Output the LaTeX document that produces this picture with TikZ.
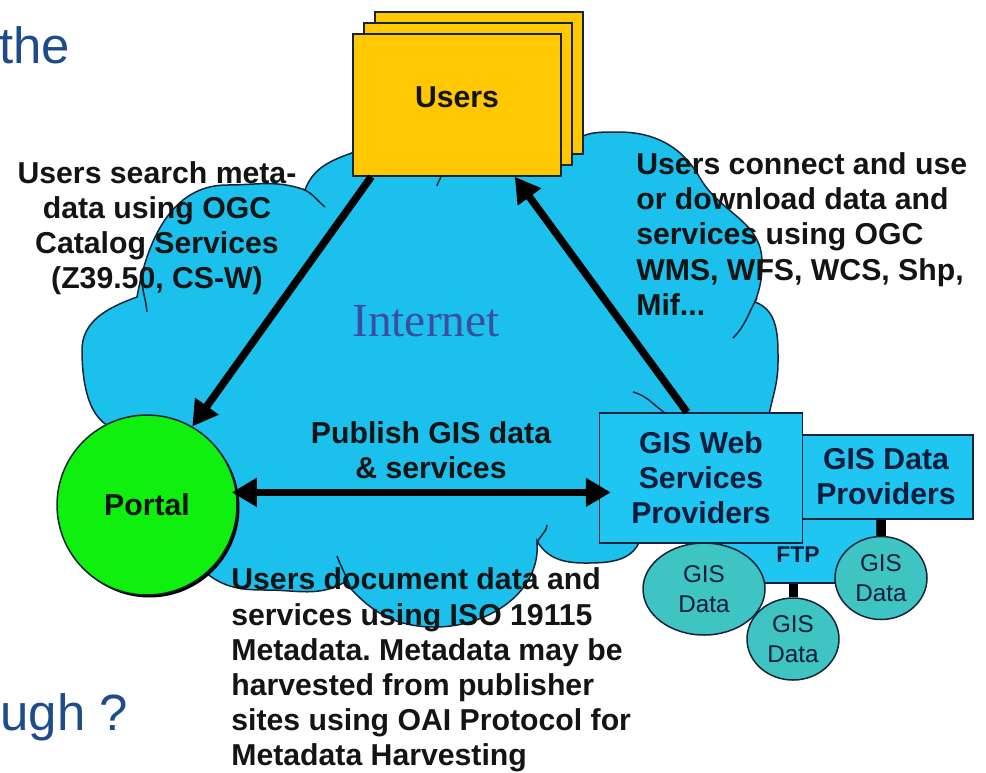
\documentclass[tikz,border=0pt]{standalone}
\usepackage{fontspec}
\setmainfont{Liberation Sans}
\newfontfamily\netfont{Liberation Serif}
\usetikzlibrary{arrows.meta,shapes.geometric,shadows}
\frenchspacing

\definecolor{cloudblue}{HTML}{1BC1EC}
\definecolor{boxblue}{HTML}{20C6F2}
\definecolor{usergold}{HTML}{FFC800}
\definecolor{portalgreen}{HTML}{0FF00F}
\definecolor{datateal}{HTML}{3EC4C2}
\definecolor{edgeblue}{HTML}{16233A}
\definecolor{slideblue}{HTML}{1E4C8A}
\definecolor{netblue}{HTML}{3A4FA0}
\definecolor{inkdark}{HTML}{141414}
\definecolor{inknavy}{HTML}{0E1C3C}

\tikzset{
  edgeline/.style={draw=edgeblue, line width=0.03cm},
  cloudshape/.style={edgeline, fill=cloudblue},
  usersbox/.style={edgeline, fill=usergold, minimum width=4.16cm, minimum height=2.84cm, inner sep=0pt},
  provbox/.style={edgeline, fill=boxblue, inner sep=0pt, align=center, text=inknavy, font=\bfseries\fontsize{17.2}{20}\selectfont},
  datadisc/.style={edgeline, fill=datateal, ellipse, inner sep=0pt, align=center, text=inknavy, font=\fontsize{13.8}{17}\selectfont},
  notetext/.style={inner sep=0pt, text=inkdark, font=\bfseries\fontsize{17.2}{20}\selectfont},
  slidetext/.style={inner sep=0pt, text=slideblue, font=\fontsize{29}{34}\selectfont},
  flowarrow/.style={line width=0.15cm, -{Triangle[length=0.5cm,width=0.55cm]}},
  linkbar/.style={line width=0.18cm},
}

\begin{document}
\begin{tikzpicture}[x=0.02cm,y=0.02cm]
  \useasboundingbox (0,0) rectangle (986,-772);

  % internet cloud
  \path[cloudshape] (125,-430) to[out=180,in=-90] (82,-350) to[out=90,in=200] (137,-297)
    to[out=80,in=180] (227,-185) to[out=0,in=160] (305,-190)
    to[out=70,in=200] (360,-150) -- (570,-150)
    to[out=70,in=180] (618,-132) to[out=0,in=120] (700,-178)
    to[out=-60,in=90] (762,-262) to[out=-90,in=70] (755,-302)
    to[out=-20,in=90] (778,-362) to[out=-90,in=80] (768,-420)
    -- (640,-540) to[out=-110,in=0] (585,-563) to[out=180,in=-60] (537,-541)
    to[out=-85,in=0] (435,-627) to[out=180,in=-50] (345,-582)
    to[out=-150,in=0] (267,-590) to[out=180,in=-40] (205,-572) -- cycle;
  \draw[edgeline] (142,-282) to[out=-85,in=95] (147,-312);
  \draw[edgeline] (303,-189) to[out=-25,in=140] (325,-207);
  \draw[edgeline] (757,-298) to[out=-120,in=45] (733,-338);
  \draw[edgeline] (633,-392) to[out=-15,in=145] (665,-413);
  \draw[edgeline] (337,-556) to[out=-70,in=110] (350,-586);
  \draw[edgeline] (537,-545) to[out=85,in=-95] (547,-525);
  \draw[edgeline] (441,-176) to[out=-100,in=80] (437,-186);

  \node[usersbox] (users3) at (479,-83) {};
  \node[usersbox] (users2) at (468,-94) {};
  \node[usersbox, label={[notetext, yshift=0.16cm]center:Users}] (users) at (457,-105) {};

  \node[edgeline, circle, fill=portalgreen, minimum size=3.6cm, inner sep=0pt,
        drop shadow={shadow xshift=0.05cm, shadow yshift=-0.05cm, opacity=1, fill=black},
        text=inkdark, font=\bfseries\fontsize{17.2}{20}\selectfont] (portal) at (147,-505) {Portal};

  \node[provbox, minimum width=3.14cm, minimum height=1.76cm] (ftp) at (798,-539) {};
  \node[inner sep=0pt, text=inknavy, font=\bfseries\fontsize{13}{15}\selectfont] (ftplbl) at (798,-555) {FTP};
  \node[provbox, minimum width=3.48cm, minimum height=1.68cm] (prov) at (886,-477) {GIS Data\\Providers};
  \node[provbox, minimum width=4.06cm, minimum height=2.6cm] (web) at (701,-478) {GIS Web\\Services\\Providers};

  \node[datadisc, minimum width=2.44cm, minimum height=1.84cm] (data1) at (704,-589) {GIS\\Data};
  \node[datadisc, minimum width=1.84cm, minimum height=1.64cm] (data2) at (793,-639) {GIS\\Data};
  \node[datadisc, minimum width=1.84cm, minimum height=1.66cm] (data3) at (881,-578) {GIS\\Data};
  \draw[linkbar] (data3.north) -- (data3.north |- prov.south);
  \draw[linkbar] (data2.north) -- (data2.north |- ftp.south);

  \draw[flowarrow] ([xshift=0.38cm]users.south west) -- (portal.60);
  \draw[flowarrow] ([xshift=-0.28cm]web.north) -- ([xshift=-0.94cm]users.south east);
  \draw[flowarrow, {Triangle[length=0.5cm,width=0.55cm]}-{Triangle[length=0.5cm,width=0.55cm]},
        shorten <=-0.1cm, shorten >=-0.24cm] (portal.8) -- (web.west |- portal.8);

  \node[inner sep=0pt, text=netblue, font=\netfont\fontsize{27}{30}\selectfont, anchor=base] (net) at (426,-336) {Internet};

  \node[notetext, align=center] (search) at (157,-228) {Users search meta-\\data using OGC\\Catalog Services\\(Z39.50, CS-W)};
  \node[notetext, align=left, anchor=west] (connect) at (636,-234) {Users connect and use\\or download data and\\services using OGC\\WMS, WFS, WCS, Shp,\\Mif...};
  \node[notetext, align=center] (publish) at (431,-450) {Publish GIS data\\\& services};
  \node[notetext, align=left, anchor=west] (document) at (231,-670) {Users document data and\\services using ISO 19115\\Metadata. Metadata may be\\harvested from publisher\\sites using OAI Protocol for\\Metadata Harvesting};

  \node[slidetext, anchor=base west] (slidetop) at (-1,-63) {the};
  \node[slidetext, anchor=base west] (slidebottom) at (0,-730) {ugh ?};
\end{tikzpicture}
\end{document}
